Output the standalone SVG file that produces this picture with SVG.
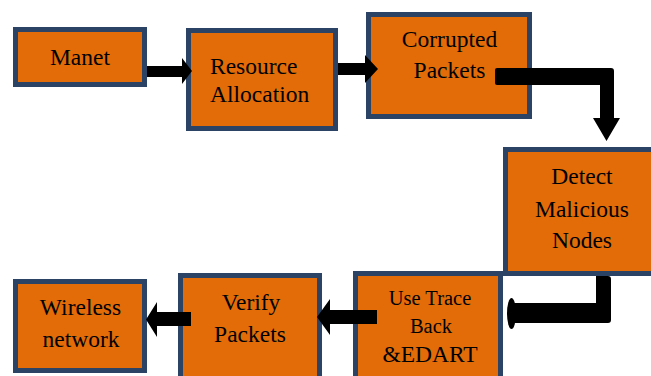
<svg xmlns="http://www.w3.org/2000/svg" width="651" height="376" viewBox="0 0 651 376">
<style>
.box{fill:#E36C09;stroke:#2B4465;stroke-width:5}
text{font-family:"Liberation Serif","Times New Roman",serif;font-size:23.5px;fill:#000;text-anchor:middle}
.s{font-size:20.5px}
.l{text-anchor:start}
.arr{fill:#000}
</style>
<rect width="651" height="376" fill="#fff"/>
<g id="manet"><rect class="box" x="15.5" y="29.5" width="129" height="55"/><text x="80" y="64.5">Manet</text></g>
<g id="resource"><rect class="box" x="188.5" y="30.5" width="147" height="98"/><text class="l" x="210" y="74">Resource</text><text class="l" x="210" y="102">Allocation</text></g>
<g id="corrupted"><rect class="box" x="368.5" y="14.5" width="161" height="102"/><text x="449.5" y="47">Corrupted</text><text x="449.5" y="78">Packets</text></g>
<g id="detect"><rect class="box" x="505.5" y="149.5" width="150" height="124"/><text x="582" y="184">Detect</text><text x="582" y="217">Malicious</text><text x="582" y="248">Nodes</text></g>
<g id="usetrace"><rect class="box" x="355.5" y="273.5" width="145" height="110"/><text class="s" x="430" y="305">Use Trace</text><text class="s" x="431" y="333">Back</text><text x="430" y="362">&amp;EDART</text></g>
<g id="verify"><rect class="box" x="180.5" y="275.5" width="139" height="110"/><text x="251" y="310">Verify</text><text x="250" y="342">Packets</text></g>
<g id="wireless"><rect class="box" x="15.5" y="281.5" width="129" height="89"/><text x="80.5" y="315">Wireless</text><text x="81" y="347">network</text></g>
<g id="connectors">
<polygon class="arr" points="147,66 182,66 182,58 192,71 182,84 182,77 147,77"/>
<polygon class="arr" points="338,63 365,63 365,55 378,69 365,83 365,75 338,75"/>
<path class="arr" d="M497,68 H611 Q614,68 614,71 V118 H620 L606.5,141 L593,118 H600 V85 H497 Q495,85 495,83 V70 Q495,68 497,68 Z"/>
<path class="arr" d="M596,276 H608 Q611,276 611,279 V320 Q611,323 608,323 H513 V303 H596 Z"/>
<ellipse class="arr" cx="511.5" cy="313.5" rx="4.5" ry="15.5"/>
<polygon class="arr" points="377,310 330,310 330,299 317,317 330,335 330,324 377,324"/>
<polygon class="arr" points="191,312 157,312 157,302 146,319.5 157,337 157,326 191,326"/>
</g>
</svg>
